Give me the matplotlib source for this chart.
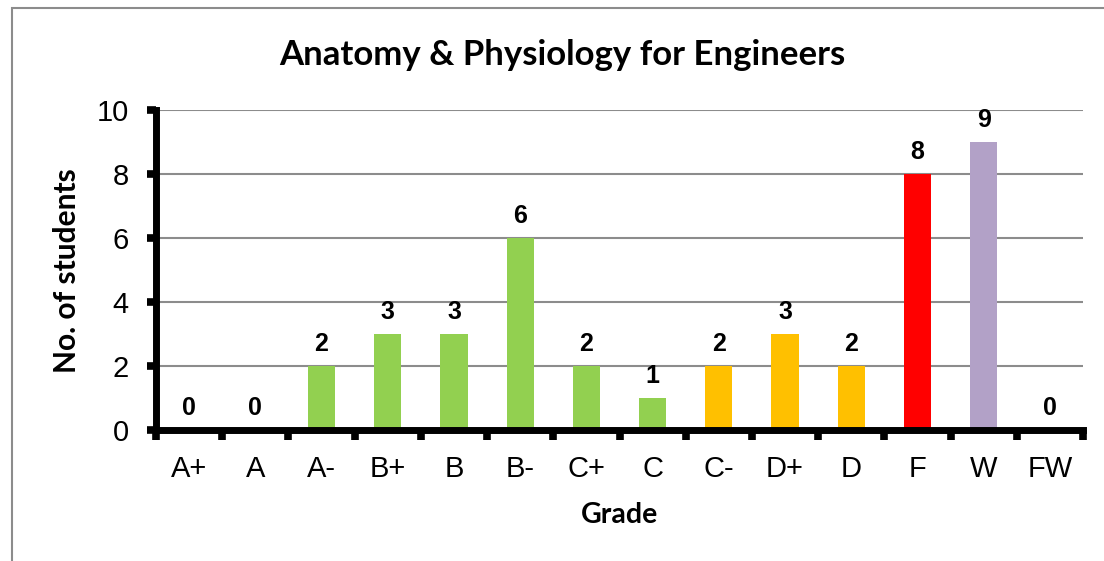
import numpy as np
import matplotlib.pyplot as plt
from matplotlib.patches import Rectangle

grades = ["A+", "A", "A-", "B+", "B", "B-", "C+", "C", "C-", "D+", "D", "F", "W", "FW"]
counts = [0, 0, 2, 3, 3, 6, 2, 1, 2, 3, 2, 8, 9, 0]
bar_colors = ["#92D050"] * 8 + ["#FFC000"] * 3 + ["#FF0000", "#B2A1C7", "#B2A1C7"]
y_ticks = [0, 2, 4, 6, 8, 10]

W, H = 1104, 561
fig = plt.figure(figsize=(W / 100, H / 100), dpi=100)
# outer chart frame (cut off at right and bottom in the reference)
fig.patches.append(Rectangle((12 / W, -0.1), 1.2, 1 - 8 / H + 0.1,
                             transform=fig.transFigure, fill=False,
                             edgecolor="#8c8c8c", linewidth=1.5))

ax = fig.add_axes([156 / W, 1 - 430 / H, (1083 - 156) / W, (430 - 110) / H])
x = np.arange(len(grades))
ax.bar(x, counts, width=0.41, color=bar_colors, zorder=3)

ax.set_xlim(-0.5, len(grades) - 0.5)
ax.set_ylim(0, 10)
ax.set_yticks(y_ticks)
ax.yaxis.grid(True, color="#8c8c8c", linewidth=1.5, zorder=0)
ax.set_axisbelow(True)

# ticks between categories, labels centred under bars
ax.set_xticks(np.arange(len(grades) + 1) - 0.5)
ax.set_xticklabels([])
ax.set_xticks(x, minor=True)
ax.set_xticklabels(grades, minor=True, fontsize=21, family="Liberation Sans")
ax.tick_params(axis="x", which="minor", length=0, pad=18)
ax.tick_params(axis="x", which="major", length=7, width=5.5, direction="out")
ax.tick_params(axis="y", length=6.5, width=5.5, direction="out", labelsize=21, pad=13)
for lab in ax.get_yticklabels():
    lab.set_family("Liberation Sans")

for s in ["top", "right"]:
    ax.spines[s].set_visible(False)
for s in ["left", "bottom"]:
    ax.spines[s].set_linewidth(5)
    ax.spines[s].set_zorder(4)

for xi, c in zip(x, counts):
    ax.text(xi, c + 0.3, str(c), ha="center", va="bottom", fontsize=18,
            fontweight="bold", family="Liberation Sans")

fig.text(562 / W, 1 - 55 / H, "Anatomy & Physiology for Engineers", fontsize=25,
         fontweight="bold", family="Lato", ha="center", va="center")
fig.text(620 / W, 1 - 515 / H, "Grade", fontsize=20.5, fontweight="bold",
         family="Lato", ha="center", va="center")
fig.text(67 / W, 1 - 271 / H, "No. of students", fontsize=21.5, fontweight="bold",
         family="Lato", ha="center", va="center", rotation=90)

fig.savefig("out.png", dpi=100)
